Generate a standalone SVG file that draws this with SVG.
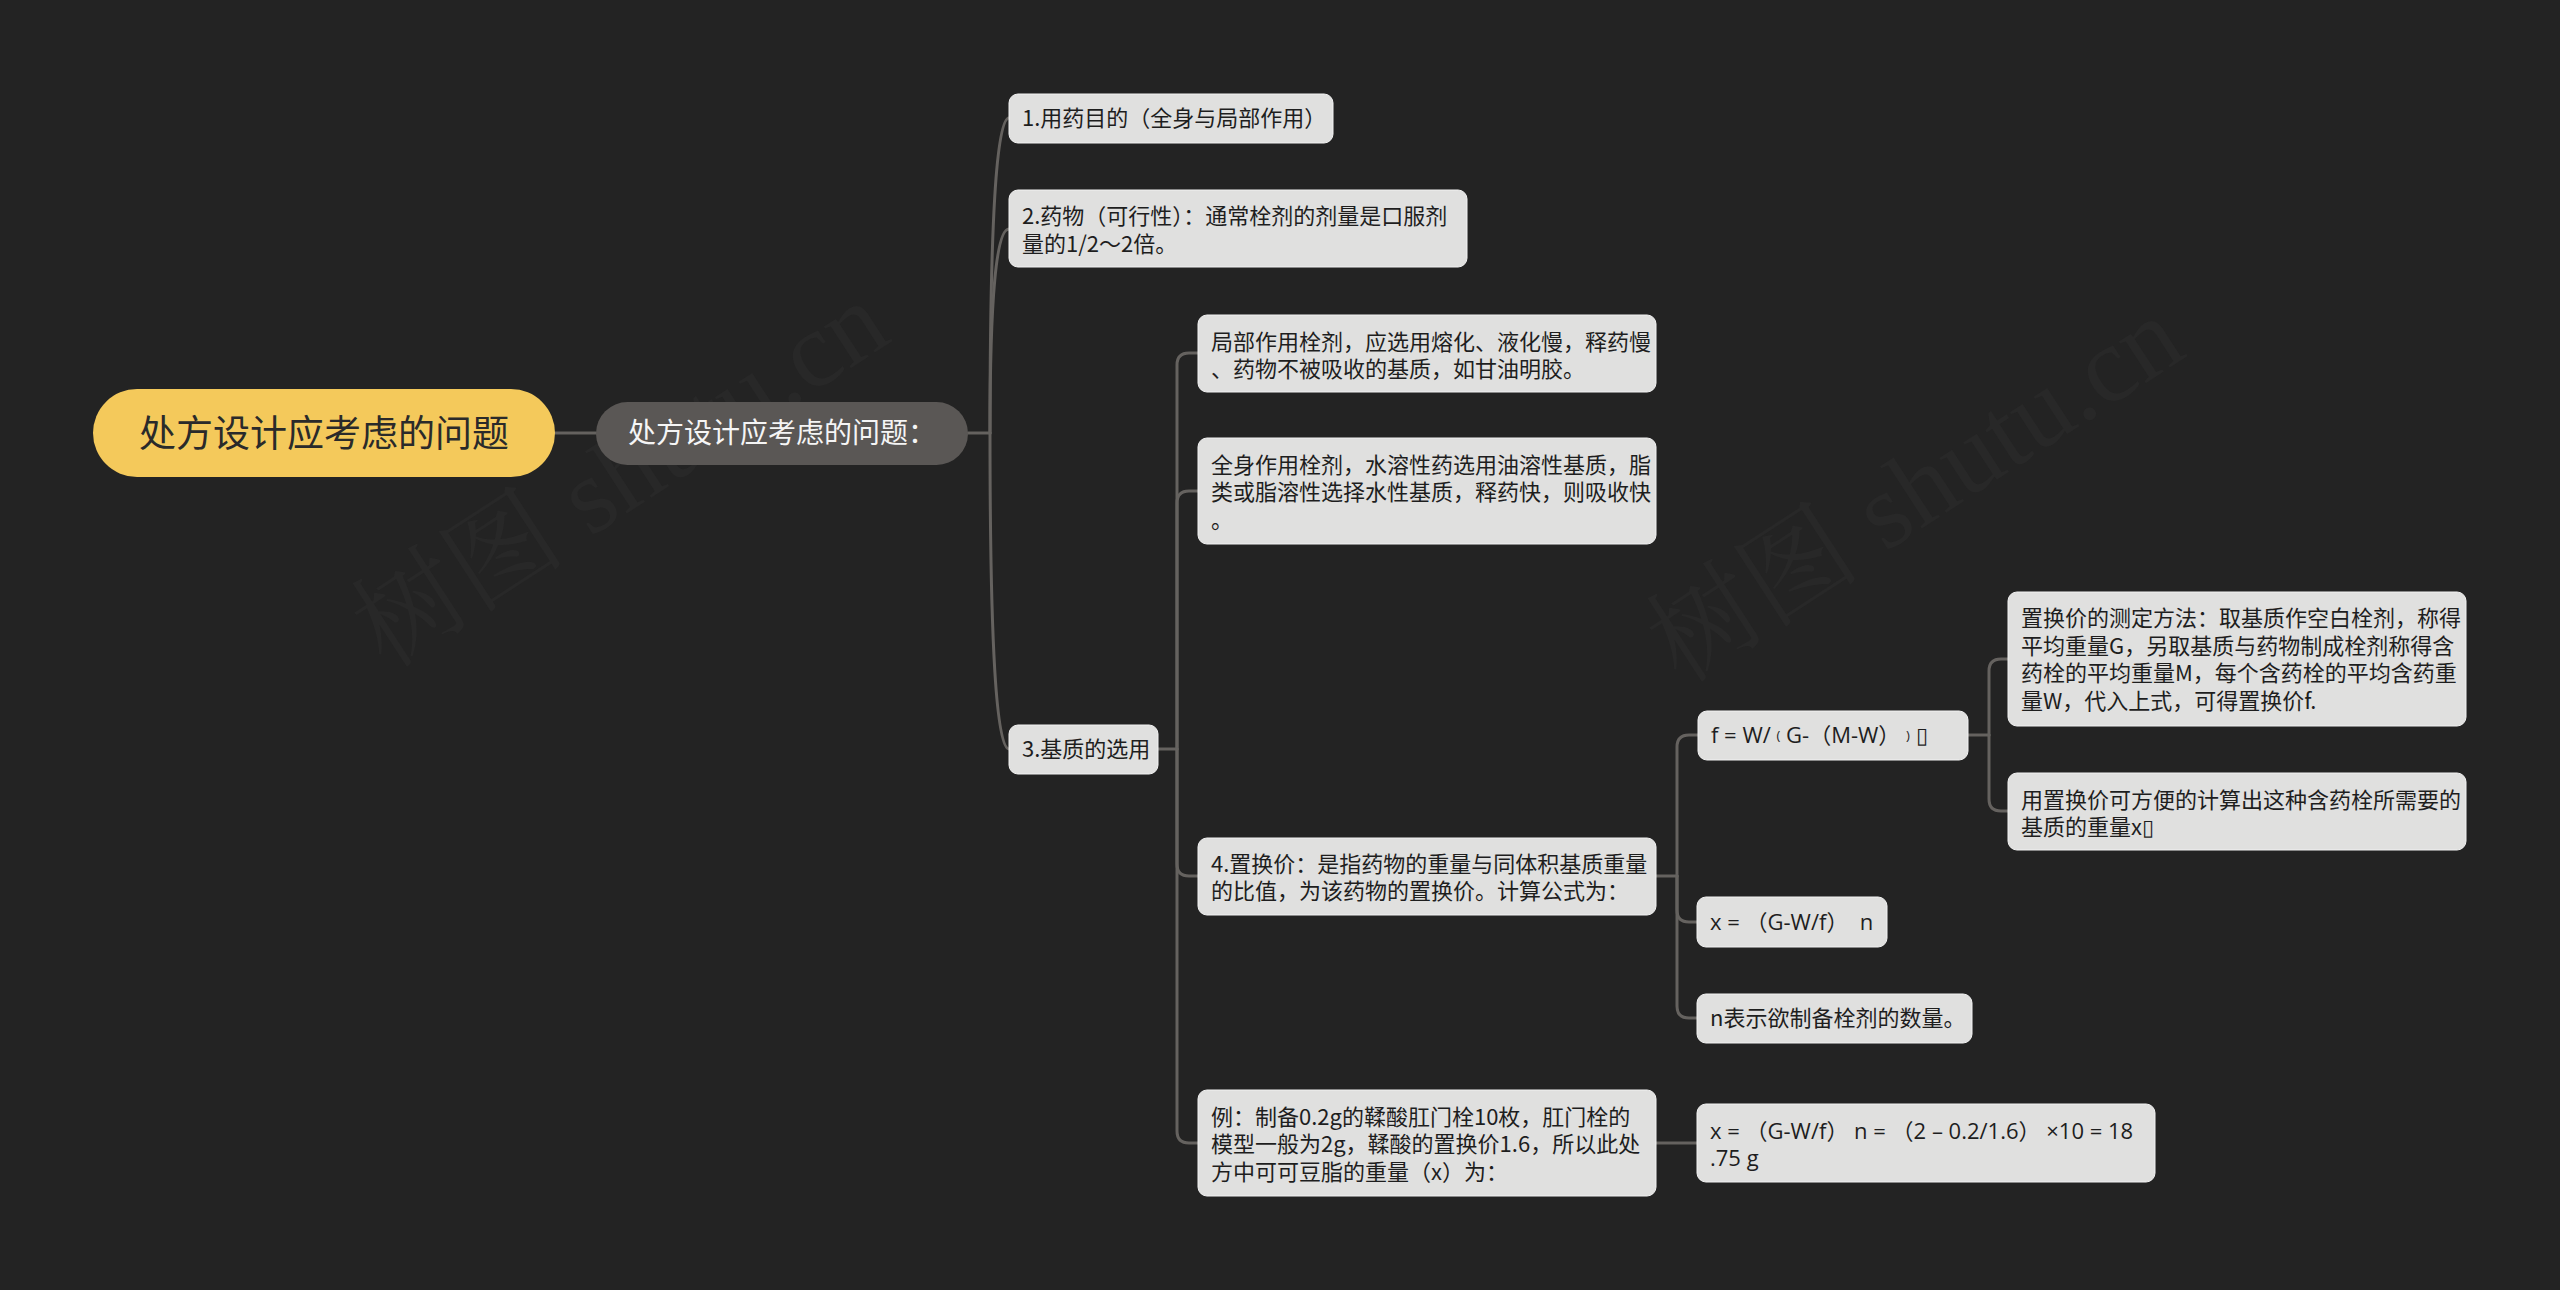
<svg xmlns="http://www.w3.org/2000/svg" width="2560" height="1290" viewBox="0 0 2560 1290">
<style>
text{font-family:"Noto Sans CJK SC","Noto Sans",sans-serif;}
.box{fill:#e0e0df;stroke:#f2f2f2;stroke-width:1;}
.t{font-size:22px;fill:#1e1e1e;}
.f{font-family:"Open Sans","Noto Sans CJK SC",sans-serif;}
.ln{fill:none;stroke:#65625f;stroke-width:3;stroke-linecap:round;}
.wm{font-family:"Liberation Serif","Noto Serif CJK SC","Noto Sans CJK SC",serif;font-size:108px;fill:#282828;}
</style>
<rect x="0" y="0" width="2560" height="1290" fill="#232323"/>
<g id="watermarks">
<text class="wm" transform="translate(640,505) rotate(-33)" text-anchor="middle">树图 shutu.cn</text>
<text class="wm" transform="translate(1935,520) rotate(-33)" text-anchor="middle">树图 shutu.cn</text>
</g>
<g id="connectors">
<path class="ln" d="M555 433 H596"/>
<path class="ln" d="M968 433 H990"/>
<path class="ln" d="M990 433 Q990 118 1009 118"/>
<path class="ln" d="M990 433 Q990 229 1009 229"/>
<path class="ln" d="M990 433 Q990 749 1009 749"/>
<path class="ln" d="M1158 749 H1177"/>
<path class="ln" d="M1177 749 V365 Q1177 353 1189 353 H1198"/>
<path class="ln" d="M1177 749 V503 Q1177 491 1189 491 H1198"/>
<path class="ln" d="M1177 749 V864 Q1177 876 1189 876 H1198"/>
<path class="ln" d="M1177 749 V1131 Q1177 1143 1189 1143 H1198"/>
<path class="ln" d="M1656 876 H1677"/>
<path class="ln" d="M1677 876 V747 Q1677 735 1689 735 H1698"/>
<path class="ln" d="M1677 876 V910 Q1677 922 1689 922 H1697"/>
<path class="ln" d="M1677 876 V1006 Q1677 1018 1689 1018 H1697"/>
<path class="ln" d="M1968 735 H1989"/>
<path class="ln" d="M1989 735 V671 Q1989 659 2001 659 H2008"/>
<path class="ln" d="M1989 735 V799 Q1989 811 2001 811 H2008"/>
<path class="ln" d="M1656 1143 H1697"/>
</g>
<g id="root">
<rect x="93" y="389" width="462" height="88" rx="44" fill="#f4c95b"/>
<text x="324" y="447" text-anchor="middle" font-size="37" fill="#2a2a2a">处方设计应考虑的问题</text>
</g>
<g id="main">
<rect x="596" y="402" width="372" height="63" rx="31.5" fill="#5a5755"/>
<text x="628" y="443" font-size="28" fill="#f5f5f5">处方设计应考虑的问题：</text>
</g>
<g id="n1">
<rect class="box" x="1009" y="94" width="324" height="49" rx="9"/>
<text class="t" x="1022" y="126">1.用药目的（全身与局部作用）</text>
</g>
<g id="n2">
<rect class="box" x="1009" y="190" width="458" height="77" rx="9"/>
<text class="t" x="1022" y="224">2.药物（可行性）：通常栓剂的剂量是口服剂</text>
<text class="t" x="1022" y="252">量的1/2～2倍。</text>
</g>
<g id="n3">
<rect class="box" x="1009" y="725" width="149" height="49" rx="9"/>
<text class="t" x="1022" y="757">3.基质的选用</text>
</g>
<g id="a">
<rect class="box" x="1198" y="315" width="458" height="77" rx="9"/>
<text class="t" x="1211" y="350">局部作用栓剂，应选用熔化、液化慢，释药慢</text>
<text class="t" x="1211" y="377">、药物不被吸收的基质，如甘油明胶。</text>
</g>
<g id="b">
<rect class="box" x="1198" y="438" width="458" height="106" rx="9"/>
<text class="t" x="1211" y="473">全身作用栓剂，水溶性药选用油溶性基质，脂</text>
<text class="t" x="1211" y="500">类或脂溶性选择水性基质，释药快，则吸收快</text>
<text class="t" x="1211" y="528">。</text>
</g>
<g id="c">
<rect class="box" x="1198" y="838" width="458" height="77" rx="9"/>
<text class="t" x="1211" y="872">4.置换价：是指药物的重量与同体积基质重量</text>
<text class="t" x="1211" y="899">的比值，为该药物的置换价。计算公式为：</text>
</g>
<g id="d">
<rect class="box" x="1198" y="1090" width="458" height="106" rx="9"/>
<text class="t" x="1211" y="1125">例：制备0.2g的鞣酸肛门栓10枚，肛门栓的</text>
<text class="t" x="1211" y="1152">模型一般为2g，鞣酸的置换价1.6，所以此处</text>
<text class="t" x="1211" y="1180">方中可可豆脂的重量（x）为：</text>
</g>
<g id="e">
<rect class="box" x="1698" y="711" width="270" height="49" rx="9"/>
<text class="t f" x="1711" y="743" xml:space="preserve">f = W/ <tspan font-size="13" dy="-3">(</tspan><tspan dy="3"> G-（M-W） </tspan><tspan font-size="13" dy="-3">)</tspan><tspan dy="3"> ▯</tspan></text>
</g>
<g id="f">
<rect class="box" x="2008" y="592" width="458" height="134" rx="9"/>
<text class="t" x="2021" y="626">置换价的测定方法：取基质作空白栓剂，称得</text>
<text class="t" x="2021" y="654">平均重量G，另取基质与药物制成栓剂称得含</text>
<text class="t" x="2021" y="681">药栓的平均重量M，每个含药栓的平均含药重</text>
<text class="t" x="2021" y="709">量W，代入上式，可得置换价f.</text>
</g>
<g id="g">
<rect class="box" x="2008" y="773" width="458" height="77" rx="9"/>
<text class="t" x="2021" y="808">用置换价可方便的计算出这种含药栓所需要的</text>
<text class="t" x="2021" y="835">基质的重量x▯</text>
</g>
<g id="h">
<rect class="box" x="1697" y="897" width="190" height="50" rx="9"/>
<text class="t f" x="1710" y="930" xml:space="preserve">x = （G-W/f）  n</text>
</g>
<g id="i">
<rect class="box" x="1697" y="994" width="275" height="49" rx="9"/>
<text class="t" x="1710" y="1026">n表示欲制备栓剂的数量。</text>
</g>
<g id="j">
<rect class="box" x="1697" y="1104" width="458" height="78" rx="9"/>
<text class="t f" x="1710" y="1139">x = （G-W/f） n = （2 – 0.2/1.6） ×10 = 18</text>
<text class="t f" x="1710" y="1166">.75 g</text>
</g>
</svg>
